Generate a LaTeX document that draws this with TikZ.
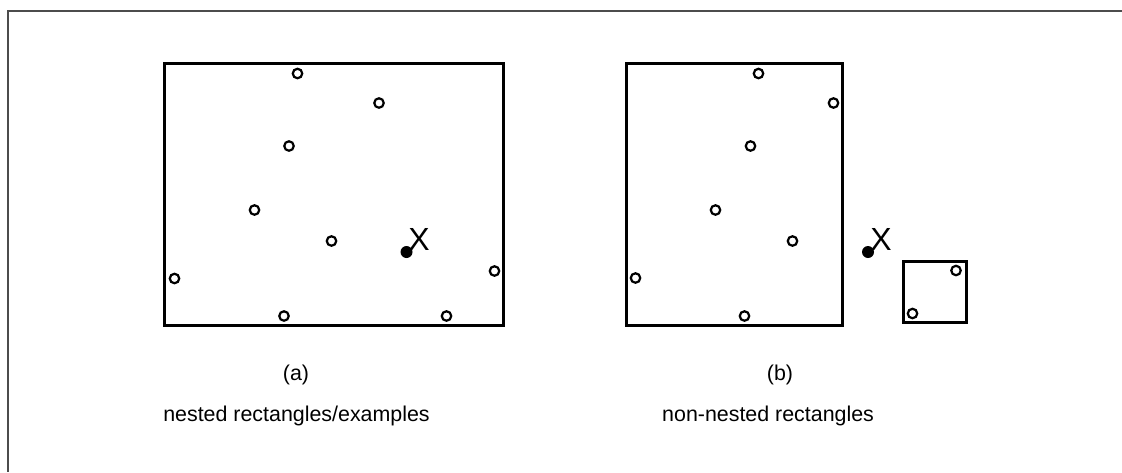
\documentclass[tikz,border=0pt]{standalone}
\usepackage{fontspec}
\setmainfont{Liberation Sans}
\usetikzlibrary{positioning}

\begin{document}
\begin{tikzpicture}[x=1pt,y=-1pt,
  sample/.style={circle,draw,line width=2.2pt,minimum size=9.5pt,inner sep=0pt},
  hit/.style={circle,fill,minimum size=12pt,inner sep=0pt},
  box/.style={draw,line width=2.6pt,inner sep=0pt},
  mark label/.style={font=\fontsize{32}{32}\selectfont,inner sep=0pt},
  caption/.style={font=\fontsize{21.4}{25}\selectfont,inner sep=0pt,anchor=base}]
\useasboundingbox (0,0) rectangle (1122,472);
\draw[black!70,line width=1.5pt] (1122,11) -- (8,11) -- (8,472);

% (a) one big rectangle holding every example
\node[box,minimum width=339pt,minimum height=262pt] (ra) at (334,194.75) {};
\node[sample] (a1) at (297.5,73.5) {};
\node[sample] (a2) at (379,103) {};
\node[sample] (a3) at (289,146) {};
\node[sample] (a4) at (254.5,210) {};
\node[sample] (a5) at (331.5,241) {};
\node[sample] (a6) at (174.5,278.5) {};
\node[sample] (a7) at (494.5,271) {};
\node[sample] (a8) at (284,316) {};
\node[sample] (a9) at (446.5,316) {};
\node[hit] (da) at (406.5,252) {};
\node[mark label] (xa) at (419,239.5) {X};

% (b) the same points split over two rectangles
\node[box,minimum width=216.4pt,minimum height=262pt] (rb) at (734.5,194.75) {};
\node[box,minimum width=63.4pt,minimum height=61.4pt] (rc) at (935,292) {};
\node[sample] (b1) at (758.5,73.5) {};
\node[sample] (b2) at (833.5,103) {};
\node[sample] (b3) at (750.5,146) {};
\node[sample] (b4) at (715.5,210) {};
\node[sample] (b5) at (792.5,241) {};
\node[sample] (b6) at (635.5,278) {};
\node[sample] (b7) at (744.5,316) {};
\node[sample] (c1) at (956,270.5) {};
\node[sample] (c2) at (912.5,313.5) {};
\node[hit] (db) at (868,252) {};
\node[mark label] (xb) at (881,239.5) {X};

\node[caption] (la) at (296,380.5) {(a)};
\node[caption] (ta) at (296.5,421.5) {nested rectangles/examples};
\node[caption] (lb) at (780,380.5) {(b)};
\node[caption,anchor=base west] (tb) at (662,421.5) {non-nested rectangles};
\end{tikzpicture}
\end{document}
